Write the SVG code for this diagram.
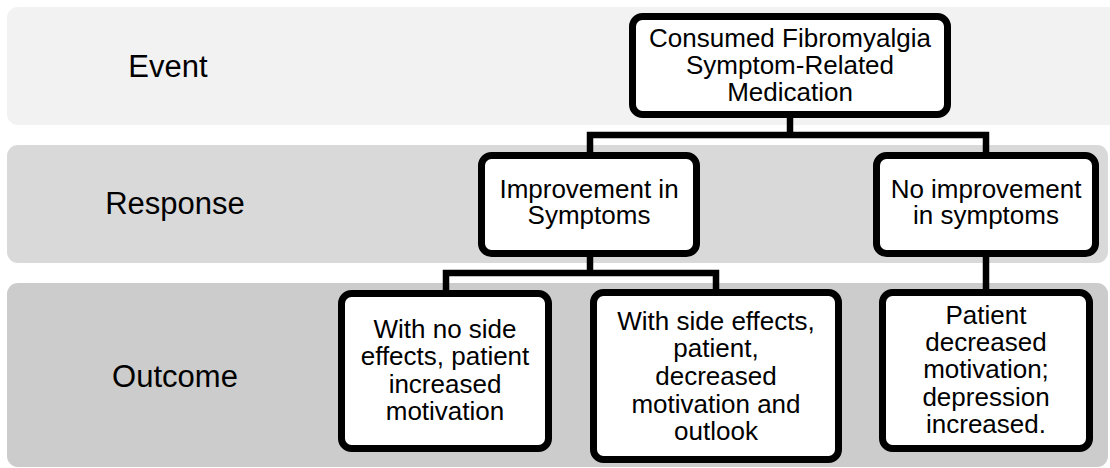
<svg xmlns="http://www.w3.org/2000/svg" width="1110" height="468" viewBox="0 0 1110 468">
<style>
.band{stroke:none}
.box{fill:#ffffff;stroke:#000000;stroke-width:7}
.conn{fill:none;stroke:#000000;stroke-width:6.5}
.t{font-family:"Liberation Sans",Arial,sans-serif;font-size:26px;fill:#000000;text-anchor:middle}
.lbl{font-family:"Liberation Sans",Arial,sans-serif;font-size:31px;fill:#000000;text-anchor:middle}
</style>
<rect width="1110" height="468" fill="#ffffff"/>
<g id="bands">
<rect class="band" x="7" y="7" width="1115" height="118" rx="11" fill="#f2f2f2"/>
<rect class="band" x="7" y="145" width="1101" height="118" rx="11" fill="#d9d9d9"/>
<rect class="band" x="7" y="283" width="1101" height="184" rx="11" fill="#cccccc"/>
<text class="lbl" x="168" y="77">Event</text>
<text class="lbl" x="175" y="214">Response</text>
<text class="lbl" x="175" y="387">Outcome</text>
</g>
<g id="connectors">
<path class="conn" d="M790,117 V135"/>
<path class="conn" d="M590,153 V135 H986 V153"/>
<path class="conn" d="M590,256 V273"/>
<path class="conn" d="M446,291 V273 H716 V290"/>
<path class="conn" d="M986,256 V290"/>
</g>
<g id="event">
<rect class="box" x="632.5" y="16.5" width="315" height="98" rx="10"/>
<text class="t"><tspan x="790" y="47">Consumed Fibromyalgia</tspan><tspan x="790" y="74">Symptom-Related</tspan><tspan x="790" y="101">Medication</tspan></text>
</g>
<g id="improvement">
<rect class="box" x="481.5" y="155.5" width="215" height="98" rx="10"/>
<text class="t"><tspan x="589" y="198">Improvement in</tspan><tspan x="589" y="224">Symptoms</tspan></text>
</g>
<g id="no-improvement">
<rect class="box" x="876.5" y="155.5" width="219" height="98" rx="10"/>
<text class="t"><tspan x="986" y="198">No improvement</tspan><tspan x="986" y="224">in symptoms</tspan></text>
</g>
<g id="outcome-no-side-effects">
<rect class="box" x="341.5" y="293.5" width="207" height="155" rx="10"/>
<text class="t"><tspan x="445" y="338">With no side</tspan><tspan x="445" y="365">effects, patient</tspan><tspan x="445" y="393">increased</tspan><tspan x="445" y="420">motivation</tspan></text>
</g>
<g id="outcome-side-effects">
<rect class="box" x="593.5" y="292.5" width="245" height="167" rx="10"/>
<text class="t"><tspan x="716" y="330">With side effects,</tspan><tspan x="716" y="357">patient,</tspan><tspan x="716" y="385">decreased</tspan><tspan x="716" y="413">motivation and</tspan><tspan x="716" y="440">outlook</tspan></text>
</g>
<g id="outcome-no-improvement">
<rect class="box" x="882.5" y="292.5" width="207" height="156" rx="10"/>
<text class="t"><tspan x="986" y="324">Patient</tspan><tspan x="986" y="351">decreased</tspan><tspan x="986" y="378">motivation;</tspan><tspan x="986" y="406">depression</tspan><tspan x="986" y="433">increased.</tspan></text>
</g>
</svg>
